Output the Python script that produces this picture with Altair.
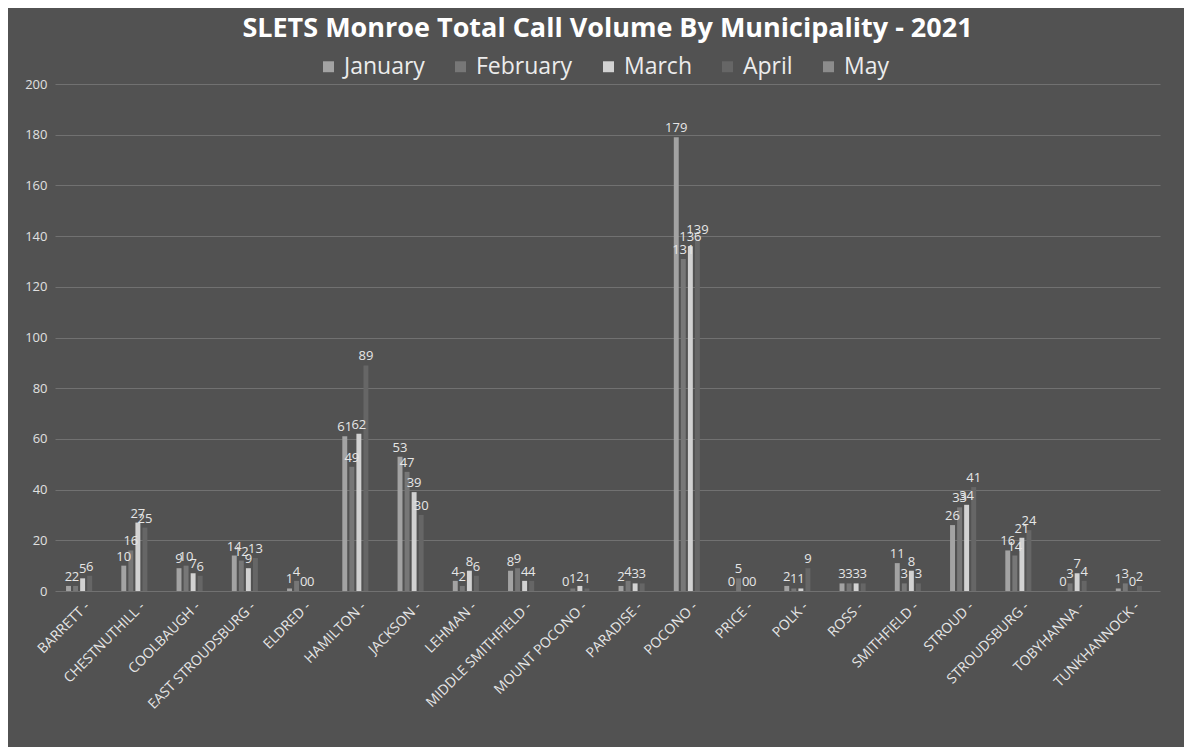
import altair as alt
import pandas as pd

municipalities = ["BARRETT", "CHESTNUTHILL", "COOLBAUGH", "EAST STROUDSBURG", "ELDRED",
                  "HAMILTON", "JACKSON", "LEHMAN", "MIDDLE SMITHFIELD", "MOUNT POCONO",
                  "PARADISE", "POCONO", "PRICE", "POLK", "ROSS", "SMITHFIELD", "STROUD",
                  "STROUDSBURG", "TOBYHANNA", "TUNKHANNOCK"]
months = ["January", "February", "March", "April", "May"]
january = [2, 10, 9, 14, 1, 61, 53, 4, 8, 0, 2, 179, 0, 2, 3, 11, 26, 16, 0, 1]
february = [2, 16, 10, 12, 4, 49, 47, 2, 9, 1, 4, 131, 5, 1, 3, 3, 33, 14, 3, 3]
march = [5, 27, 7, 9, 0, 62, 39, 8, 4, 2, 3, 136, 0, 1, 3, 8, 34, 21, 7, 0]
april = [6, 25, 6, 13, 0, 89, 30, 6, 4, 1, 3, 139, 0, 9, 3, 3, 41, 24, 4, 2]
may = [None] * 20

rows = []
for m, vals in zip(months, [january, february, march, april, may]):
    for name, v in zip(municipalities, vals):
        if v is not None:
            rows.append({"Municipality": name, "Month": m, "Calls": v})
df = pd.DataFrame(rows)

colors = ["#a3a3a3", "#777777", "#d2d2d2", "#666666", "#8c8c8c"]

x = alt.X("Municipality:N", sort=municipalities, title=None,
          scale=alt.Scale(paddingInner=0.4, paddingOuter=0.2),
          axis=alt.Axis(labelAngle=-45, labelFontSize=14, labelColor="#e6e6e6",
                        labelFont="Open Sans", labelExpr="datum.label + ' -'",
                        ticks=False, domain=False, labelPadding=8))
xo = alt.XOffset("Month:N", scale=alt.Scale(domain=months, paddingInner=0.3))
y = alt.Y("Calls:Q", title=None, scale=alt.Scale(domain=[0, 200]),
          axis=alt.Axis(values=list(range(0, 201, 20)), labelFontSize=13,
                        labelColor="#e0e0e0", labelFont="Open Sans", ticks=False,
                        domain=False, gridColor="#8a8a8a", gridOpacity=0.55,
                        labelPadding=8))

bars = alt.Chart(df).mark_bar().encode(
    x=x, xOffset=xo, y=y,
    color=alt.Color("Month:N", scale=alt.Scale(domain=months, range=colors),
                    legend=alt.Legend(orient="none", legendX=262, legendY=-29,
                                      direction="horizontal", title=None,
                                      symbolType="square", symbolSize=120,
                                      labelFontSize=23, labelColor="#ececec",
                                      labelFont="Open Sans", columnPadding=24,
                                      symbolStrokeWidth=0)),
)
labels = alt.Chart(df).mark_text(dy=-9, fontSize=13, color="#e6e6e6",
                                 font="Open Sans").encode(
    x=x, xOffset=xo, y=y, text="Calls:Q")

chart = (bars + labels).properties(
    width=1105, height=507,
    autosize=alt.AutoSizeParams(type="none"),
    padding={"left": 47, "top": 76, "right": 24, "bottom": 156},
    title=alt.Title("SLETS Monroe Total Call Volume By Municipality - 2021",
                    fontSize=27, font="Open Sans", fontWeight="bold",
                    color="#ffffff", anchor="middle", offset=12),
).configure(background="#525252").configure_view(stroke=None)

chart.save("out.html", embed_options={"renderer": "svg", "actions": False})
